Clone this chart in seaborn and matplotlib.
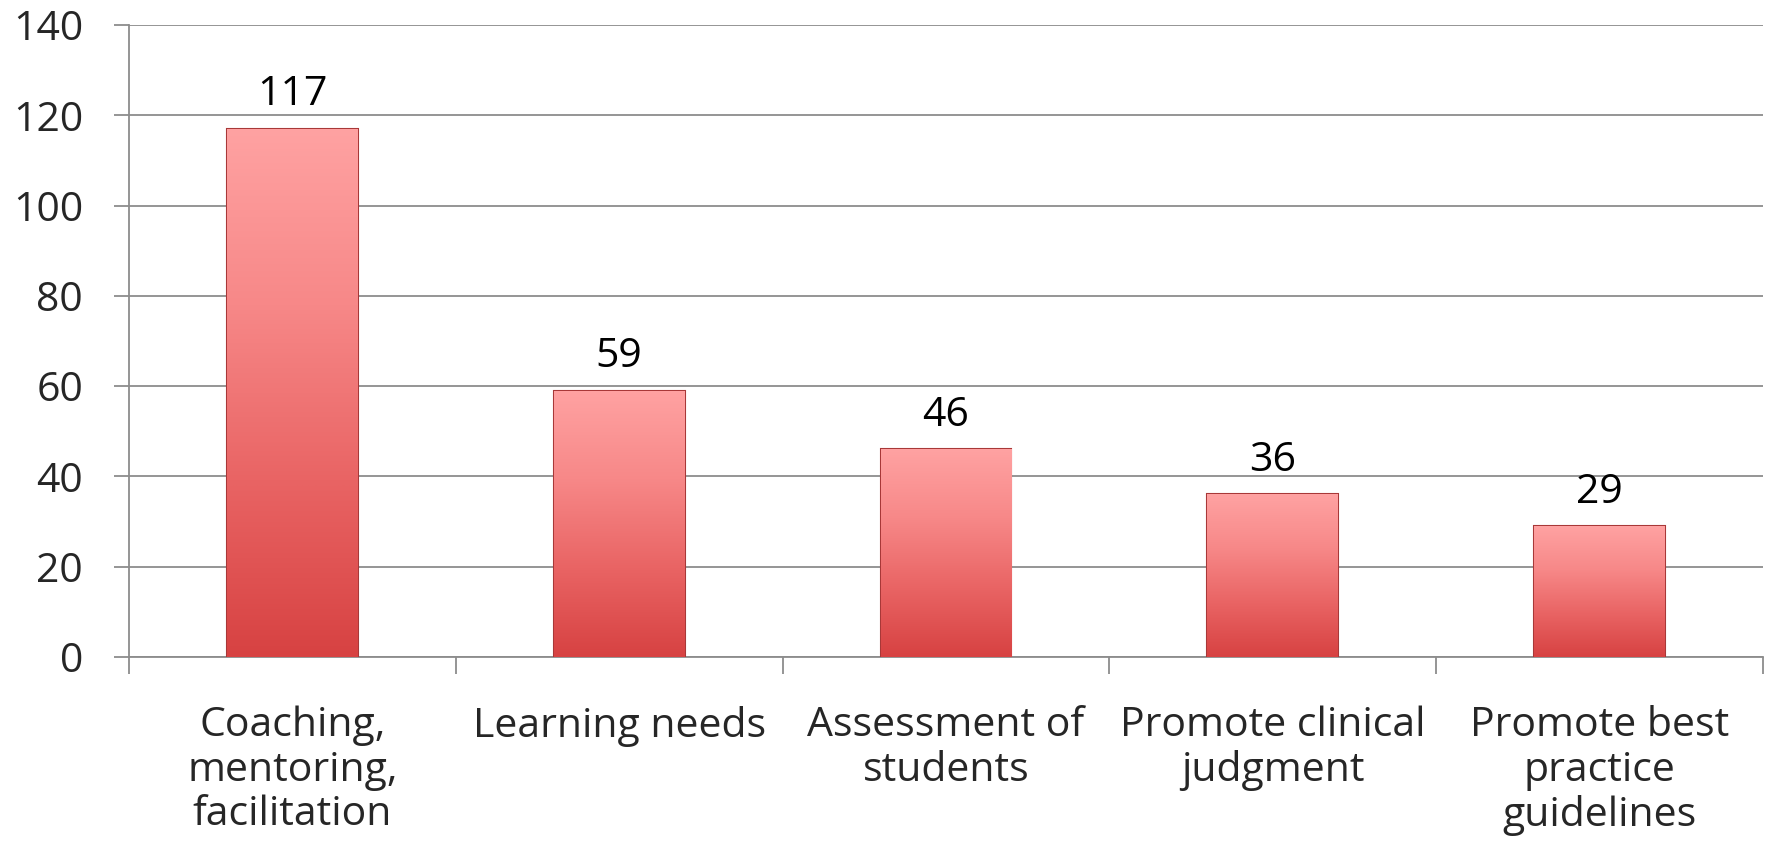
import numpy as np
import pandas as pd
import matplotlib
matplotlib.use("Agg")
import matplotlib.pyplot as plt
import seaborn as sns
from matplotlib.colors import LinearSegmentedColormap

categories = ["Coaching,\nmentoring,\nfacilitation", "Learning needs",
              "Assessment of\nstudents", "Promote clinical\njudgment",
              "Promote best\npractice\nguidelines"]
values = [117, 59, 46, 36, 29]
yticks = [0, 20, 40, 60, 80, 100, 120, 140]

sns.set_theme(style="white")
plt.rcParams['font.family'] = ['Open Sans', 'DejaVu Sans']

df = pd.DataFrame({"cat": categories, "val": values})
fig = plt.figure(figsize=(17.72, 8.59), dpi=100)
ax = fig.add_axes([129/1772, 1 - 657/859, (1763-129)/1772, (657-25)/859])

sns.barplot(data=df, x="cat", y="val", ax=ax, width=0.4, color="#E86060",
            edgecolor="#A83838", linewidth=1.5, zorder=3)

cmap = LinearSegmentedColormap.from_list("g", ["#D74242", "#E96464", "#F78888", "#FFA2A2"])
grad = np.linspace(0, 1, 256).reshape(-1, 1)
for p in ax.patches:
    x0, y0 = p.get_x(), p.get_y()
    w, h = p.get_width(), p.get_height()
    im = ax.imshow(grad, cmap=cmap, aspect="auto", origin="lower",
                   extent=[x0, x0 + w, y0, y0 + h], zorder=3.5)
    im.set_clip_path(p)

for i, v in enumerate(values):
    ax.text(i, v + 3, str(v), ha="center", va="bottom", fontsize=29.5, color="black", zorder=5)

ax.set_xlim(-0.5, len(categories) - 0.5)
ax.set_ylim(0, 140)
ax.set_yticks(yticks)
ax.set_yticklabels([str(t) for t in yticks], fontsize=29.5)
ax.yaxis.grid(True, color="#8C8C8C", linewidth=1.3, zorder=0)
ax.set_axisbelow(True)
ax.set_xlabel("")
ax.set_ylabel("")
ax.set_xticks(range(len(categories)))
ax.set_xticklabels(categories, fontsize=29.5, linespacing=1.13)
ax.set_xticks(np.arange(-0.5, len(categories)), minor=True)
ax.tick_params(axis="x", which="major", length=0, pad=35, bottom=True)
ax.tick_params(axis="x", which="minor", length=12, width=1.3, color="#8C8C8C",
               direction="out", bottom=True)
ax.tick_params(axis="y", which="major", length=11, width=1.3, color="#8C8C8C",
               direction="out", pad=22, left=True)
for s in ["top", "right"]:
    ax.spines[s].set_visible(False)
for s in ["left", "bottom"]:
    ax.spines[s].set_color("#8C8C8C")
    ax.spines[s].set_linewidth(1.3)

fig.savefig("out.png", dpi=100, facecolor="white")
